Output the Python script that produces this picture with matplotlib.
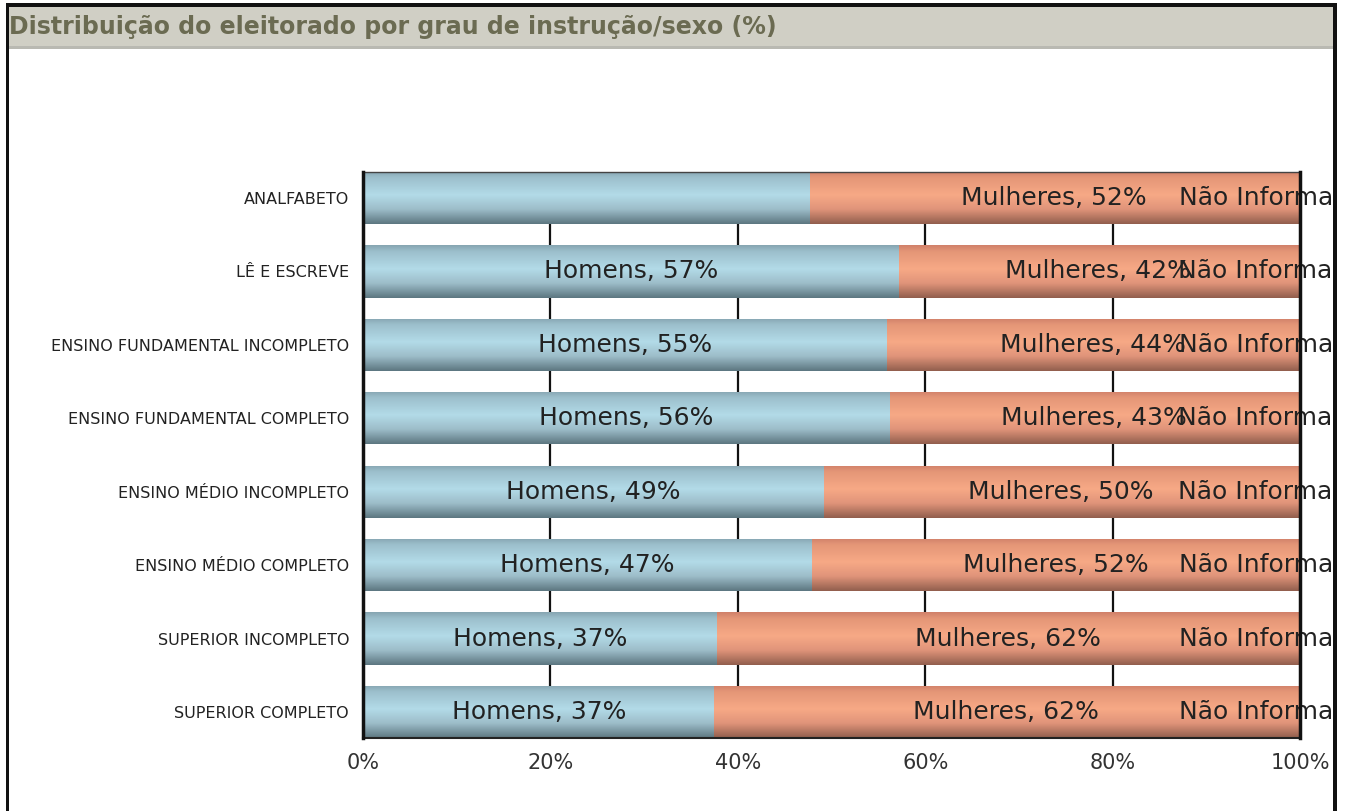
import numpy as np
import matplotlib
matplotlib.use("Agg")
import matplotlib.pyplot as plt
from matplotlib.colors import LinearSegmentedColormap
from matplotlib.patches import Rectangle
from matplotlib.transforms import Bbox, TransformedBbox

plt.rcParams["font.family"] = ["DejaVu Sans"]

categories = ["ANALFABETO", "LÊ E ESCREVE", "ENSINO FUNDAMENTAL INCOMPLETO",
              "ENSINO FUNDAMENTAL COMPLETO", "ENSINO MÉDIO INCOMPLETO",
              "ENSINO MÉDIO COMPLETO", "SUPERIOR INCOMPLETO", "SUPERIOR COMPLETO"]
homens = [47.7, 57.2, 55.9, 56.2, 49.2, 47.9, 37.8, 37.5]
mulheres = [52.1, 42.5, 44.0, 43.5, 50.5, 52.0, 62.0, 62.3]
nao_informado = [0.2, 0.3, 0.1, 0.3, 0.3, 0.1, 0.2, 0.2]
show_homens_label = [False, True, True, True, True, True, True, True]
xticks = [0, 20, 40, 60, 80, 100]
xticklabels = ["0%", "20%", "40%", "60%", "80%", "100%"]
title = "Distribuição do eleitorado por grau de instrução/sexo (%)"

W, H = 1347, 811
fig = plt.figure(figsize=(W / 100, H / 100), dpi=100)
fig.patch.set_facecolor("white")

# frame + title bar
def px_rect(x0, y0, x1, y1, color, z=0):
    fig.patches.append(Rectangle((x0 / W, 1 - y1 / H), (x1 - x0) / W, (y1 - y0) / H,
                                 transform=fig.transFigure, facecolor=color,
                                 edgecolor="none", zorder=z))

px_rect(7, 6, 1335, 47, "#d0cfc5")
px_rect(7, 46, 1335, 49, "#b9b9b2")
px_rect(6, 3, 1337, 7, "#111111", 2)
px_rect(6, 3, 9, 811, "#111111", 2)
px_rect(1333, 3, 1337, 811, "#111111", 2)
fig.text(9 / W, 1 - 27 / H, title, fontsize=17, fontweight="bold",
         color="#6b6b52", ha="left", va="center")

ax = fig.add_axes([363 / W, 1 - 738 / H, (1300 - 363) / W, (738 - 172) / H])
n = len(categories)
y = np.arange(n)
h = 0.71

blue_cmap = LinearSegmentedColormap.from_list(
    "b", [(0, "#86a5b1"), (0.12, "#9cbfcc"), (0.45, "#b3dbe8"),
          (0.72, "#9dbdc9"), (1.0, "#5c7680")])
sal_cmap = LinearSegmentedColormap.from_list(
    "s", [(0, "#d0806a"), (0.12, "#e49677"), (0.45, "#f7a986"),
          (0.72, "#e0947a"), (1.0, "#915e4d")])
grad = np.linspace(0, 1, 256).reshape(-1, 1)

left_m = np.array(homens)
left_n = left_m + np.array(mulheres)
bh = ax.barh(y, homens, height=h, color="#a9cfdc", zorder=2)
bm = ax.barh(y, mulheres, left=left_m, height=h, color="#f0a080", zorder=2)
bn = ax.barh(y, nao_informado, left=left_n, height=h, color="#f0a080", zorder=2)

for bars, cmap in ((bh, blue_cmap), (bm, sal_cmap), (bn, sal_cmap)):
    for r in bars:
        x0, w = r.get_x(), r.get_width()
        yb, hh = r.get_y(), r.get_height()
        im = ax.imshow(grad, cmap=cmap, aspect="auto", origin="upper",
                       extent=(x0, x0 + w, yb + hh, yb), zorder=2.5,
                       interpolation="bilinear")
        im.set_clip_path(r)

ax.set_xlim(0, 100)
ax.set_ylim(n - 1 + h / 2, -h / 2)

for gx in [20, 40, 60, 80]:
    ax.axvline(gx, color="#111111", lw=1.6, zorder=1)

clip = TransformedBbox(Bbox.from_extents(0, 0, 1333 / W, 1), fig.transFigure)
lab_kw = dict(fontsize=18, color="#222222", va="center", zorder=5)
for i in range(n):
    if show_homens_label[i]:
        ax.text(homens[i] / 2, y[i], f"Homens, {int(homens[i])}%", ha="center", **lab_kw)
    ax.text(left_m[i] + mulheres[i] / 2, y[i], f"Mulheres, {int(mulheres[i])}%",
            ha="center", **lab_kw)
    t = ax.text(left_n[i] + nao_informado[i] / 2, y[i],
                f"Não Informado, {int(nao_informado[i])}%", ha="center", **lab_kw)
    t.set_clip_on(True)
    t.set_clip_box(clip)

ax.set_yticks(y)
ax.set_yticklabels(categories, fontsize=11.5, color="#222222")
ax.set_xticks(xticks)
ax.set_xticklabels(xticklabels, fontsize=15, color="#333333")
ax.tick_params(axis="both", length=0)
ax.tick_params(axis="y", pad=10)
ax.tick_params(axis="x", pad=11)

for side in ("left", "right"):
    ax.spines[side].set_color("#111111")
    ax.spines[side].set_linewidth(2.5)
    ax.spines[side].set_zorder(6)
ax.spines["top"].set_color("#444444")
ax.spines["top"].set_linewidth(1)
ax.spines["bottom"].set_color("#222222")
ax.spines["bottom"].set_linewidth(1.5)

fig.savefig("out.png", dpi=100)
